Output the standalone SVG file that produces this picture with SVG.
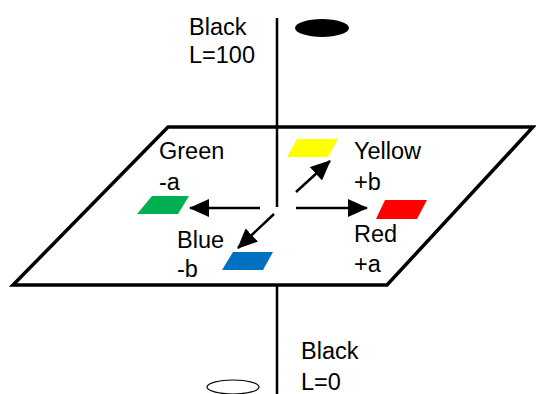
<svg xmlns="http://www.w3.org/2000/svg" width="536" height="394" viewBox="0 0 536 394">
<defs>
<style>
text{font-family:"Liberation Sans",Arial,sans-serif;font-size:23.5px;fill:#000}
.ax{stroke:#000;stroke-width:2.5;fill:none}
.ar{stroke:#000;stroke-width:2.5;fill:none;marker-end:url(#ah)}
</style>
<marker id="ah" markerUnits="userSpaceOnUse" markerWidth="20" markerHeight="18" viewBox="0 0 20 18" refX="19" refY="9" orient="auto">
<path d="M0,0 L20,9 L0,18 Z" fill="#000"/>
</marker>
</defs>
<rect width="536" height="394" fill="#fff"/>
<g id="axis-top"><line class="ax" x1="277" y1="18" x2="277" y2="130"/></g>
<g id="axis-bottom"><line class="ax" x1="277" y1="285" x2="277" y2="394"/></g>
<g id="plane"><polygon points="168,127 533,127 387,285 13,285" fill="#fff" stroke="#000" stroke-width="3.5" stroke-linejoin="miter"/></g>
<g id="axis-mid"><line class="ax" x1="277" y1="127" x2="277" y2="207"/></g>
<g id="black-top">
<ellipse cx="322" cy="28" rx="27" ry="9" fill="#000"/>
<text x="189" y="35">Black</text><text x="189" y="63">L=100</text>
</g>
<g id="black-bottom">
<ellipse cx="233" cy="387" rx="26" ry="7" fill="#fff" stroke="#000" stroke-width="1.2"/>
<text x="301" y="359">Black</text><text x="301" y="390">L=0</text>
</g>
<g id="yellow"><polygon points="297,139 338,139 328,157 287,157" fill="#ffff00"/><text x="354" y="159">Yellow</text><text x="354" y="190">+b</text></g>
<g id="green"><polygon points="152,196 189,196 178,214 137,214" fill="#00b050"/><text x="159" y="159">Green</text><text x="159" y="190">-a</text></g>
<g id="red"><polygon points="385,200 427,200 417,219 376,219" fill="#ff0000"/><text x="354" y="242">Red</text><text x="354" y="272">+a</text></g>
<g id="blue"><polygon points="233,252 273,252 263,270 222,270" fill="#0070c0"/><text x="177" y="248">Blue</text><text x="177" y="277">-b</text></g>
<g id="connectors">
<line class="ar" x1="260" y1="208" x2="190" y2="208"/>
<line class="ar" x1="296" y1="208" x2="367" y2="208"/>
<line class="ar" x1="296" y1="192" x2="330" y2="161"/>
<line class="ar" x1="274" y1="214" x2="238" y2="248"/>
</g>
</svg>
